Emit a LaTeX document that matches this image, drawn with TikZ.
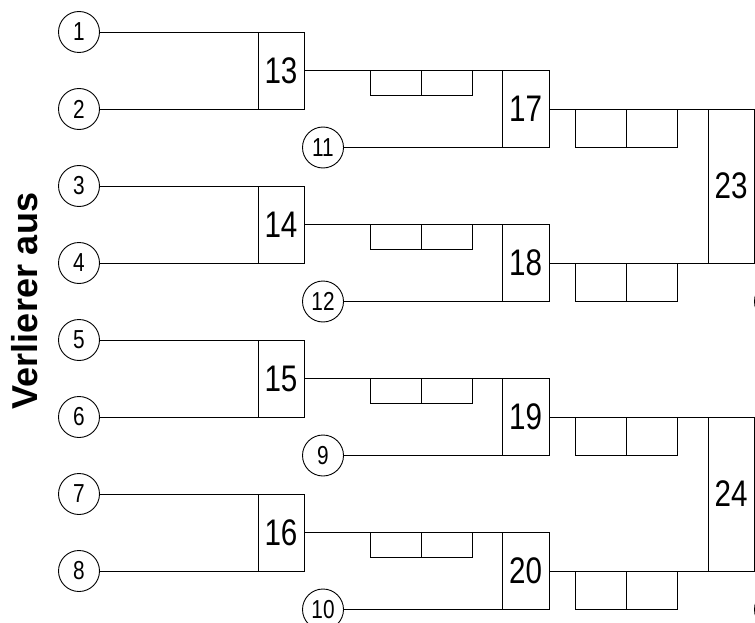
\documentclass[tikz,border=0pt]{standalone}
\usepackage{fontspec}
\setmainfont{Liberation Sans}
\newfontfamily\narrowfont[FakeStretch=0.8]{Liberation Sans}
\usepackage{tikz}
\usetikzlibrary{positioning}
\tikzset{
  seed/.style={
    draw,
    circle,
    line width=0.9pt,
    minimum size=41pt,
    inner sep=0pt,
    outer sep=0pt,
    font=\narrowfont\fontsize{26pt}{26pt}\selectfont
  },
  match/.style={
    draw,
    line width=0.9pt,
    minimum width=46pt,
    minimum height=77pt,
    inner sep=0pt,
    outer sep=0pt,
    font=\narrowfont\fontsize{37pt}{37pt}\selectfont
  },
  finalmatch/.style={
    match,
    minimum height=154pt
  },
  scorebox/.style={
    draw,
    line width=0.9pt,
    minimum width=51pt,
    minimum height=25pt,
    inner sep=0pt,
    outer sep=0pt
  },
  tallscore/.style={
    scorebox,
    minimum height=38pt
  },
  bracketline/.style={
    line width=0.9pt
  }
}

\begin{document}
\begin{tikzpicture}[x=1pt,y=-1pt]

  \useasboundingbox (0,0) rectangle (755,623);
  \clip (0,0) rectangle (755,623);

  % Startplaetze links
  \node[seed] (c1) at (79,32) {1};
  \node[seed] (c2) at (79,109) {2};
  \node[seed] (c3) at (79,186) {3};
  \node[seed] (c4) at (79,263) {4};
  \node[seed] (c5) at (79,340) {5};
  \node[seed] (c6) at (79,417) {6};
  \node[seed] (c7) at (79,494) {7};
  \node[seed] (c8) at (79,571) {8};

  % Verlierer aus der Hauptrunde
  \node[seed] (c11) at (323,147.5) {11};
  \node[seed] (c12) at (323,301.5) {12};
  \node[seed] (c9) at (323,455.5) {9};
  \node[seed] (c10) at (323,609.5) {10};

  % erste Runde
  \node[match] (m13) at (281,70.5) {13};
  \node[match] (m14) at (281,224.5) {14};
  \node[match] (m15) at (281,378.5) {15};
  \node[match] (m16) at (281,532.5) {16};

  % zweite Runde
  \node[match, minimum width=47pt] (m17) at (525.5,109) {17};
  \node[match, minimum width=47pt] (m18) at (525.5,263) {18};
  \node[match, minimum width=47pt] (m19) at (525.5,417) {19};
  \node[match, minimum width=47pt] (m20) at (525.5,571) {20};

  % dritte Runde
  \node[finalmatch] (m23) at (731,186) {23};
  \node[finalmatch] (m24) at (731,494) {24};

  % angeschnittene Plaetze am rechten Rand
  \node[seed] (r1) at (775,301.5) {};
  \node[seed] (r2) at (775,609.5) {};

  % Ergebnisfelder
  \node[scorebox, anchor=north west] (s13a) at (370,70.5) {};
  \node[scorebox, right=0pt of s13a] (s13b) {};
  \node[scorebox, anchor=north west] (s14a) at (370,224.5) {};
  \node[scorebox, right=0pt of s14a] (s14b) {};
  \node[scorebox, anchor=north west] (s15a) at (370,378.5) {};
  \node[scorebox, right=0pt of s15a] (s15b) {};
  \node[scorebox, anchor=north west] (s16a) at (370,532.5) {};
  \node[scorebox, right=0pt of s16a] (s16b) {};

  \node[tallscore, anchor=north west] (s17a) at (575,109) {};
  \node[tallscore, right=0pt of s17a] (s17b) {};
  \node[tallscore, anchor=north west] (s18a) at (575,263) {};
  \node[tallscore, right=0pt of s18a] (s18b) {};
  \node[tallscore, anchor=north west] (s19a) at (575,417) {};
  \node[tallscore, right=0pt of s19a] (s19b) {};
  \node[tallscore, anchor=north west] (s20a) at (575,571) {};
  \node[tallscore, right=0pt of s20a] (s20b) {};

  % Linien
  \draw[bracketline] (c1.east) -- (m13.north west);
  \draw[bracketline] (c2.east) -- (m13.south west);
  \draw[bracketline] (c3.east) -- (m14.north west);
  \draw[bracketline] (c4.east) -- (m14.south west);
  \draw[bracketline] (c5.east) -- (m15.north west);
  \draw[bracketline] (c6.east) -- (m15.south west);
  \draw[bracketline] (c7.east) -- (m16.north west);
  \draw[bracketline] (c8.east) -- (m16.south west);

  \draw[bracketline] (m13.east) -- (m17.north west);
  \draw[bracketline] (c11.east) -- (m17.south west);
  \draw[bracketline] (m14.east) -- (m18.north west);
  \draw[bracketline] (c12.east) -- (m18.south west);
  \draw[bracketline] (m15.east) -- (m19.north west);
  \draw[bracketline] (c9.east) -- (m19.south west);
  \draw[bracketline] (m16.east) -- (m20.north west);
  \draw[bracketline] (c10.east) -- (m20.south west);

  \draw[bracketline] (m17.east) -- (m23.north west);
  \draw[bracketline] (m18.east) -- (m23.south west);
  \draw[bracketline] (m19.east) -- (m24.north west);
  \draw[bracketline] (m20.east) -- (m24.south west);

  \node[rotate=90, font=\fontsize{36pt}{36pt}\selectfont\bfseries] (title) at (25,301) {Verlierer aus};
\end{tikzpicture}
\end{document}
